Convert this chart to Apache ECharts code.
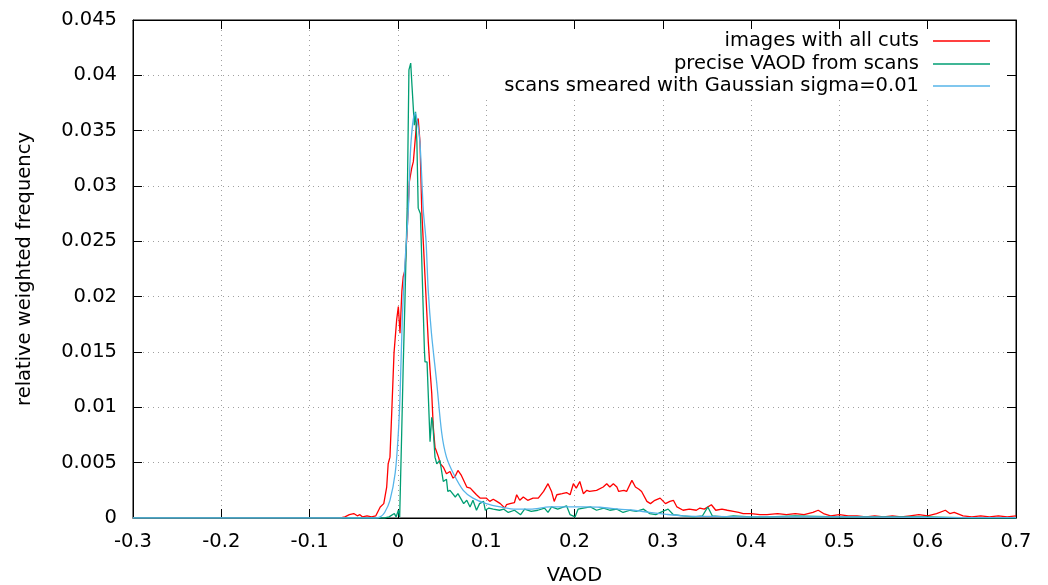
<!DOCTYPE html>
<html>
<head>
<meta charset="utf-8">
<script src="https://cdn.jsdelivr.net/npm/echarts@6/dist/echarts.min.js"></script>
<style>html,body{margin:0;padding:0;background:#fff}#c{width:1048px;height:585px}</style>
</head>
<body>
<div id="c"></div>
<script>
const seriesNames = ['images with all cuts', 'precise VAOD from scans', 'scans smeared with Gaussian sigma=0.01'];
const xTicks = [-0.3, -0.2, -0.1, 0, 0.1, 0.2, 0.3, 0.4, 0.5, 0.6, 0.7];
const yTicks = [0, 0.005, 0.01, 0.015, 0.02, 0.025, 0.03, 0.035, 0.04, 0.045];

const redX = [-0.3,-0.065,-0.06,-0.055,-0.05,-0.046,-0.043,-0.04,-0.035,-0.03,-0.025,-0.02,-0.016,-0.0127,-0.011,-0.009,-0.007,-0.0044,-0.0014,0.0005,0.0024,0.0045,0.006,0.008,0.0105,0.013,0.0156,0.0175,0.0194,0.0213,0.023,0.025,0.027,0.0307,0.0345,0.0364,0.0383,0.040,0.042,0.044,0.046,0.048,0.0514,0.055,0.059,0.0625,0.065,0.068,0.0715,0.0735,0.078,0.082,0.0855,0.089,0.093,0.097,0.1,0.104,0.108,0.112,0.116,0.121,0.123,0.127,0.132,0.1345,0.138,0.142,0.147,0.153,0.159,0.165,0.170,0.174,0.177,0.180,0.186,0.191,0.195,0.1987,0.202,0.206,0.210,0.214,0.217,0.225,0.2325,0.2365,0.240,0.244,0.248,0.250,0.256,0.259,0.265,0.269,0.273,0.276,0.282,0.286,0.291,0.297,0.303,0.308,0.312,0.316,0.323,0.330,0.338,0.342,0.347,0.355,0.360,0.367,0.373,0.380,0.386,0.391,0.40,0.41,0.418,0.43,0.44,0.45,0.46,0.47,0.476,0.482,0.49,0.50,0.51,0.52,0.53,0.54,0.55,0.56,0.57,0.58,0.59,0.60,0.61,0.62,0.625,0.63,0.64,0.65,0.66,0.67,0.68,0.69,0.7];
const redY = [0,0,0.0001,0.0003,0.0004,0.0002,0.0003,0.0001,0.0002,0.0001,0.0002,0.001,0.0013,0.0028,0.0049,0.0055,0.0095,0.0149,0.0179,0.0191,0.0167,0.0205,0.0218,0.0224,0.026,0.0304,0.0316,0.0322,0.034,0.0358,0.0361,0.034,0.0278,0.0218,0.0158,0.0134,0.0113,0.0083,0.0064,0.0063,0.0055,0.0049,0.0046,0.004,0.0042,0.0036,0.0038,0.0043,0.0039,0.004,0.0028,0.0027,0.0024,0.0021,0.0018,0.0018,0.0018,0.0015,0.0017,0.0015,0.0013,0.0009,0.0012,0.0013,0.0014,0.0021,0.0016,0.0019,0.0016,0.0018,0.0018,0.0024,0.0031,0.0024,0.0015,0.0021,0.0022,0.0023,0.0021,0.0031,0.0027,0.0033,0.0022,0.0025,0.0024,0.0025,0.0028,0.0031,0.0028,0.0031,0.0028,0.0024,0.0025,0.0024,0.0034,0.0028,0.0026,0.0024,0.0015,0.0013,0.0016,0.0018,0.0013,0.0015,0.0016,0.001,0.0007,0.0008,0.0007,0.0009,0.0008,0.0012,0.0007,0.0008,0.0007,0.0006,0.0005,0.0004,0.0004,0.0003,0.0003,0.0004,0.0003,0.0004,0.0003,0.0005,0.0007,0.0004,0.0002,0.0003,0.0002,0.0002,0.0001,0.0002,0.0001,0.0002,0.0001,0.0002,0.0003,0.0002,0.0004,0.0007,0.0004,0.0005,0.0002,0.0001,0.0002,0.0001,0.0002,0.0001,0.0002];

const greenX = [-0.3,-0.015,-0.01,-0.004,-0.002,0.0005,0.002,0.0043,0.006,0.008,0.0105,0.0125,0.0145,0.016,0.0186,0.020,0.0215,0.023,0.0255,0.030,0.0307,0.033,0.0364,0.0383,0.0394,0.042,0.044,0.0476,0.0514,0.055,0.0565,0.059,0.065,0.068,0.0745,0.078,0.0817,0.085,0.089,0.0925,0.097,0.099,0.103,0.108,0.115,0.12,0.125,0.132,0.139,0.1435,0.151,0.1585,0.166,0.17,0.174,0.181,0.191,0.195,0.2006,0.204,0.21,0.218,0.225,0.233,0.24,0.248,0.255,0.263,0.27,0.278,0.285,0.292,0.3,0.306,0.312,0.323,0.335,0.345,0.351,0.356,0.37,0.38,0.4,0.42,0.45,0.5,0.55,0.6,0.65,0.7];
const greenY = [0,0,0.0001,0.0004,0.0001,0.0007,0.0001,0.0077,0.0137,0.0197,0.028,0.0405,0.0411,0.039,0.0355,0.0367,0.034,0.028,0.0275,0.0152,0.0141,0.0141,0.0069,0.0091,0.0087,0.0055,0.0049,0.0052,0.0033,0.0035,0.0024,0.0025,0.0019,0.0022,0.0013,0.0016,0.001,0.0016,0.0007,0.0013,0.0015,0.0007,0.0009,0.0008,0.0007,0.0008,0.0005,0.0007,0.0003,0.0008,0.0006,0.0007,0.0009,0.0005,0.001,0.0008,0.0011,0.0003,0.0001,0.0008,0.0009,0.001,0.0007,0.0009,0.0007,0.0008,0.0005,0.0007,0.0006,0.0008,0.0004,0.0003,0.0006,0.0008,0.0003,0.0002,0.0001,0.0002,0.001,0.0002,0.0001,0.0002,0.0001,0.0001,0.0002,0.0001,0.0001,0.0001,0,0];

const blueX = [-0.3,-0.025,-0.02,-0.015,-0.009,-0.003,0.0005,0.0024,0.005,0.008,0.0118,0.0148,0.0194,0.022,0.025,0.0288,0.0318,0.0344,0.038,0.044,0.0496,0.055,0.063,0.074,0.085,0.1,0.116,0.134,0.15,0.172,0.21,0.229,0.25,0.267,0.285,0.304,0.323,0.35,0.4,0.5,0.6,0.7];
const blueY = [0,0,0.0001,0.0005,0.0016,0.0041,0.0077,0.011,0.018,0.023,0.0278,0.0339,0.0366,0.0358,0.0339,0.0278,0.0251,0.0205,0.0167,0.0122,0.0077,0.0055,0.004,0.0025,0.0018,0.0013,0.001,0.0008,0.0008,0.001,0.001,0.00097,0.0008,0.0007,0.0005,0.00033,0.0002,0.00015,0.0001,0.0001,0.00005,0.00003];

const colors = ['#ff0000', '#009e73', '#56b4e9'];
const FONT = 'DejaVu Sans';
const FS = 19.5;

function pairs(xs, ys) { return xs.map((x, i) => [x, ys[i]]); }

const chart = echarts.init(document.getElementById('c'), null, {renderer: 'canvas'});
const gridL = 133, gridR = 32, gridT = 20, gridB = 67;
const fmtX = v => String(+v.toFixed(2));
const fmtY = v => String(+v.toFixed(3));

const legendRows = [31, 54, 76];
chart.setOption({
  animation: false,
  backgroundColor: '#fff',
  textStyle: {fontFamily: FONT},
  grid: {left: gridL, right: gridR, top: gridT, bottom: gridB, show: true, borderColor: '#000', borderWidth: 1, containLabel: false, outerBoundsMode: 'none'},
  legend: seriesNames.map((n, i) => ({
    data: [n], right: 58, top: legendRows[i], align: 'right', icon: 'rect',
    itemWidth: 57, itemHeight: 1.5, padding: 0,
    textStyle: {fontFamily: FONT, fontSize: FS, color: '#000', padding: [0, 9, 0, 0]},
    selectedMode: false
  })),
  graphic: [{
    type: 'rect', z: 1, zlevel: 0, silent: true,
    shape: {x: 450, y: 29, width: 556, height: 69},
    style: {fill: '#fff'}
  }],
  xAxis: [{
    type: 'value', min: xTicks[0], max: xTicks[xTicks.length - 1], interval: 0.1,
    name: 'VAOD', nameLocation: 'middle', nameGap: 48,
    nameTextStyle: {fontFamily: FONT, fontSize: FS, color: '#000'},
    axisLine: {show: true, onZero: false, lineStyle: {color: '#000', width: 1}},
    axisTick: {show: true, inside: true, length: 9, lineStyle: {color: '#000', width: 1}},
    axisLabel: {formatter: fmtX, margin: 14, fontFamily: FONT, fontSize: FS, color: '#000'},
    splitLine: {show: true, lineStyle: {type: [1, 4], color: '#a0a0a0', width: 1}}
  }, {
    type: 'value', position: 'top', min: xTicks[0], max: xTicks[xTicks.length - 1], interval: 0.1,
    axisLine: {show: true, onZero: false, lineStyle: {color: '#000', width: 1}},
    axisTick: {show: true, inside: true, length: 9, lineStyle: {color: '#000', width: 1}},
    axisLabel: {show: false}, splitLine: {show: false}
  }],
  yAxis: [{
    type: 'value', min: yTicks[0], max: yTicks[yTicks.length - 1], interval: 0.005,
    name: 'relative weighted frequency', nameLocation: 'middle', nameGap: 98, nameRotate: 90,
    nameTextStyle: {fontFamily: FONT, fontSize: FS, color: '#000'},
    axisLine: {show: true, onZero: false, lineStyle: {color: '#000', width: 1}},
    axisTick: {show: true, inside: true, length: 9, lineStyle: {color: '#000', width: 1}},
    axisLabel: {formatter: fmtY, margin: 16, fontFamily: FONT, fontSize: FS, color: '#000'},
    splitLine: {show: true, lineStyle: {type: [1, 4], color: '#a0a0a0', width: 1}}
  }, {
    type: 'value', position: 'right', min: yTicks[0], max: yTicks[yTicks.length - 1], interval: 0.005,
    axisLine: {show: true, onZero: false, lineStyle: {color: '#000', width: 1}},
    axisTick: {show: true, inside: true, length: 9, lineStyle: {color: '#000', width: 1}},
    axisLabel: {show: false}, splitLine: {show: false}
  }],
  series: [
    {name: seriesNames[0], type: 'line', data: pairs(redX, redY), color: colors[0], showSymbol: false, symbol: 'none', lineStyle: {width: 1.3, color: colors[0]}, z: 3},
    {name: seriesNames[1], type: 'line', data: pairs(greenX, greenY), color: colors[1], showSymbol: false, symbol: 'none', lineStyle: {width: 1.3, color: colors[1]}, z: 4},
    {name: seriesNames[2], type: 'line', data: pairs(blueX, blueY), color: colors[2], showSymbol: false, symbol: 'none', smooth: 0.3, lineStyle: {width: 1.3, color: colors[2]}, z: 5}
  ]
});
</script>
</body>
</html>
